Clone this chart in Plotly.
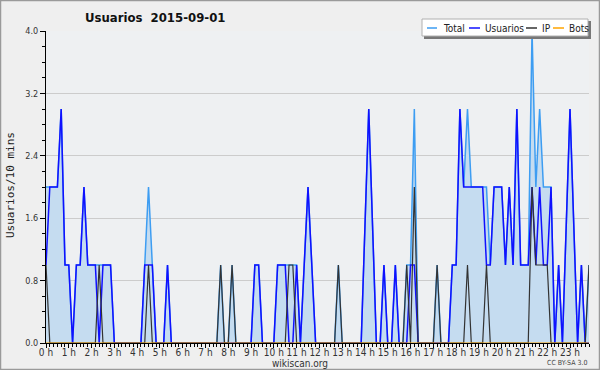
import plotly.graph_objects as go

# 10-minute slots of the day 2015-09-01 (144 slots)
slot_minutes = [10 * k for k in range(144)]
hours = [m / 60 for m in slot_minutes]

hour_labels = [f"{h} h" for h in range(24)]

usuarios = [
    1, 2, 2, 2, 3, 1, 1, 0, 1, 1, 2, 1,      # 0h-1h50
    1, 1, 0, 1, 1, 1, 0, 0, 0, 0, 0, 0,      # 2h-3h50
    0, 0, 1, 1, 1, 0, 0, 0, 1, 0, 0, 0,      # 4h-5h50
    0, 0, 0, 0, 0, 0, 0, 0, 0, 0, 0, 0,      # 6h-7h50
    0, 0, 0, 0, 0, 0, 0, 1, 1, 0, 0, 0,      # 8h-9h50
    0, 1, 1, 1, 0, 0, 1, 0, 1, 2, 1, 0,      # 10h-11h50
    0, 0, 0, 0, 0, 0, 0, 0, 0, 0, 0, 0,      # 12h-13h50
    1.5, 3, 1.5, 0, 0, 1, 0, 0, 1, 0, 0, 0,  # 14h-15h50
    1, 1, 0, 0, 0, 0, 0, 0, 0, 0, 0, 1,      # 16h-17h50
    1, 3, 2, 2, 2, 2, 2, 2, 1, 1, 2, 2,      # 18h-19h50
    2, 1, 2, 1, 3, 1, 1, 1, 2, 1, 2, 1,      # 20h-21h50
    1, 2, 0, 1, 0, 1.5, 3, 1.5, 0, 1, 0, 0,  # 22h-23h50
]

ip = [
    1, 0, 0, 0, 0, 0, 0, 0, 0, 0, 0, 0,      # 0h
    0, 0, 1, 0, 0, 0, 0, 0, 0, 0, 0, 0,      # 2h
    0, 0, 0, 1, 0, 0, 0, 0, 0, 0, 0, 0,      # 4h
    0, 0, 0, 0, 0, 0, 0, 0, 0, 0, 1, 0,      # 6h
    0, 1, 0, 0, 0, 0, 0, 0, 0, 0, 0, 0,      # 8h
    0, 0, 0, 0, 1, 1, 0, 0, 0, 0, 0, 0,      # 10h
    0, 0, 0, 0, 0, 1, 0, 0, 0, 0, 0, 0,      # 12h
    0, 0, 0, 0, 0, 0, 0, 0, 0, 0, 0, 1,      # 14h
    0, 2, 0, 0, 0, 0, 0, 1, 0, 0, 0, 0,      # 16h
    0, 0, 0, 1, 0, 0, 0, 0, 1, 0, 0, 0,      # 18h
    0, 0, 0, 0, 0, 0, 0, 0, 2, 1, 1, 1,      # 20h
    1, 0, 0, 0, 0, 0, 0, 0, 0, 0, 0, 1,      # 22h
]

total = [
    2, 2, 2, 2, 3, 1, 1, 0, 1, 1, 2, 1,      # 0h
    1, 1, 1, 1, 1, 1, 0, 0, 0, 0, 0, 0,      # 2h
    0, 0, 1, 2, 1, 0, 0, 0, 1, 0, 0, 0,      # 4h
    0, 0, 0, 0, 0, 0, 0, 0, 0, 0, 1, 0,      # 6h
    0, 1, 0, 0, 0, 0, 0, 1, 1, 0, 0, 0,      # 8h
    0, 1, 1, 1, 1, 1, 1, 0, 1, 2, 1, 0,      # 10h
    0, 0, 0, 0, 0, 1, 0, 0, 0, 0, 0, 0,      # 12h
    1.5, 3, 1.5, 0, 0, 1, 0, 0, 1, 0, 0, 1,  # 14h
    1, 3, 0, 0, 0, 0, 0, 1, 0, 0, 0, 1,      # 16h
    1, 3, 2, 3, 2, 2, 2, 2, 2, 1, 2, 2,      # 18h
    2, 1, 2, 1, 3, 1, 1, 1, 4, 2, 3, 2,      # 20h
    2, 2, 0, 1, 0, 1.5, 3, 1.5, 0, 1, 0, 1,  # 22h
]

bots = [
    0, 0, 0, 0, 0, 0, 0, 0, 0, 0, 0, 0,
    0, 0, 0, 0, 0, 0, 0, 0, 0, 0, 0, 0,
    0, 0, 0, 0, 0, 0, 0, 0, 0, 0, 0, 0,
    0, 0, 0, 0, 0, 0, 0, 0, 0, 0, 0, 0,
    0, 0, 0, 0, 0, 0, 0, 0, 0, 0, 0, 0,
    0, 0, 0, 0, 0, 0, 0, 0, 0, 0, 0, 0,
    0, 0, 0, 0, 0, 0, 0, 0, 0, 0, 0, 0,
    0, 0, 0, 0, 0, 0, 0, 0, 0, 0, 0, 0,
    0, 0, 0, 0, 0, 0, 0, 0, 0, 0, 0, 0,
    0, 0, 0, 0, 0, 0, 0, 0, 0, 0, 0, 0,
    0, 0, 0, 0, 0, 0, 0, 0, 0, 0, 0, 0,
    0, 0, 0, 0, 0, 0, 0, 0, 0, 0, 0, 0,
]

C_TOTAL = "#3d9df2"
C_FILL = "#c5dcf0"
C_USERS = "#1010ff"
C_IP = "#333333"
C_BOTS = "#ffa500"

W, H = 600, 370
ML, MR, MT, MB = 46, 11, 31, 27
PW, PH = W - ML - MR, H - MT - MB


def px(x):
    return (x - ML) / PW


def py(y):
    return (H - MB - y) / PH


fig = go.Figure()
fig.add_trace(go.Scatter(x=hours, y=total, mode="lines", name="Total",
                         line=dict(color=C_TOTAL, width=1.5),
                         fill="tozeroy", fillcolor=C_FILL))
fig.add_trace(go.Scatter(x=hours, y=usuarios, mode="lines", name="Usuarios",
                         line=dict(color=C_USERS, width=1.5)))
fig.add_trace(go.Scatter(x=hours, y=ip, mode="lines", name="IP",
                         line=dict(color=C_IP, width=1.2)))
fig.add_trace(go.Scatter(x=hours, y=bots, mode="lines", name="Bots",
                         line=dict(color=C_BOTS, width=1)))

FONT = "DejaVu Sans Condensed, DejaVu Sans, sans-serif"

fig.update_layout(
    width=W, height=H,
    margin=dict(l=ML, r=MR, t=MT, b=MB, pad=0, autoexpand=False),
    paper_bgcolor="#efefef",
    plot_bgcolor="#eef0f2",
    showlegend=False,
    font=dict(family=FONT, size=10, color="#333"),
)
fig.update_xaxes(
    range=[0, hours[-1]], automargin=False,
    tickmode="array", tickvals=list(range(24)), ticktext=hour_labels,
    ticks="outside", ticklen=4, tickcolor="black", tickwidth=1,
    ticklabelstandoff=-4,
    showgrid=False, zeroline=False,
    showline=True, linecolor="black", linewidth=1,
    tickfont=dict(family=FONT, size=10, color="#333"),
    minor=dict(tickmode="linear", tick0=0, dtick=1 / 6, ticks="outside",
               ticklen=3, tickcolor="black", tickwidth=1, showgrid=False),
)
fig.update_yaxes(
    range=[0, 4.0], automargin=False,
    tickmode="linear", tick0=0, dtick=0.8, tickformat=".1f",
    ticks="outside", ticklen=5, tickcolor="black", tickwidth=1,
    showgrid=True, gridcolor="#cccccc", gridwidth=1,
    zeroline=False,
    showline=True, linecolor="black", linewidth=1,
    tickfont=dict(family=FONT, size=9, color="#333"),
    minor=dict(tickmode="linear", tick0=0, dtick=0.2, ticks="outside",
               ticklen=3, tickcolor="black", tickwidth=1, showgrid=False),
)

shapes = []
# outer frame
shapes.append(dict(type="rect", xref="paper", yref="paper",
                   x0=px(0.5), x1=px(W - 0.5), y0=py(H - 0.5), y1=py(0.5),
                   line=dict(color="#9a9a9a", width=1.5), layer="above"))
# legend box with shadow
shapes.append(dict(type="rect", xref="paper", yref="paper",
                   x0=px(424), x1=px(591), y0=py(39), y1=py(21),
                   line=dict(width=0), fillcolor="#777777", layer="above"))
shapes.append(dict(type="rect", xref="paper", yref="paper",
                   x0=px(422), x1=px(588), y0=py(36), y1=py(19),
                   line=dict(color="#b0b0b0", width=1), fillcolor="white",
                   layer="above"))
legend_items = [("Total", C_TOTAL, 427, 437, 441),
                ("Usuarios", C_USERS, 469, 480, 483),
                ("IP", C_IP, 526, 537, 540),
                ("Bots", C_BOTS, 553, 564, 567)]
annotations = []
for name, col, lx0, lx1, tx in legend_items:
    shapes.append(dict(type="line", xref="paper", yref="paper",
                       x0=px(lx0), x1=px(lx1), y0=py(28), y1=py(28),
                       line=dict(color=col, width=1.5), layer="above"))
    annotations.append(dict(text=name, xref="paper", yref="paper",
                            x=px(tx), y=py(28), xanchor="left", yanchor="middle",
                            showarrow=False,
                            font=dict(family=FONT, size=10, color="#222")))

annotations.append(dict(text="<b>Usuarios\u00a0 2015-09-01</b>", xref="paper",
                        yref="paper", x=px(155), y=py(18), xanchor="center",
                        yanchor="middle", showarrow=False,
                        font=dict(family=FONT, size=13, color="#111")))
annotations.append(dict(text="Usuarios/10 mins", xref="paper", yref="paper",
                        x=px(10), y=py(185), xanchor="center", yanchor="middle",
                        textangle=-90, showarrow=False,
                        font=dict(family="DejaVu Sans Mono, monospace", size=11,
                                  color="#222")))
annotations.append(dict(text="wikiscan.org", xref="paper", yref="paper",
                        x=px(300), y=py(363), xanchor="center", yanchor="middle",
                        showarrow=False,
                        font=dict(family=FONT, size=10, color="#333")))
annotations.append(dict(text="CC BY-SA 3.0", xref="paper", yref="paper",
                        x=px(589), y=py(363), xanchor="right", yanchor="middle",
                        showarrow=False,
                        font=dict(family=FONT, size=7, color="#444")))

fig.update_layout(shapes=shapes, annotations=annotations)
fig.write_html("out.html", config={"displayModeBar": False},
               post_script="document.body.style.margin='0px';"
                           "document.body.style.overflow='hidden';")
